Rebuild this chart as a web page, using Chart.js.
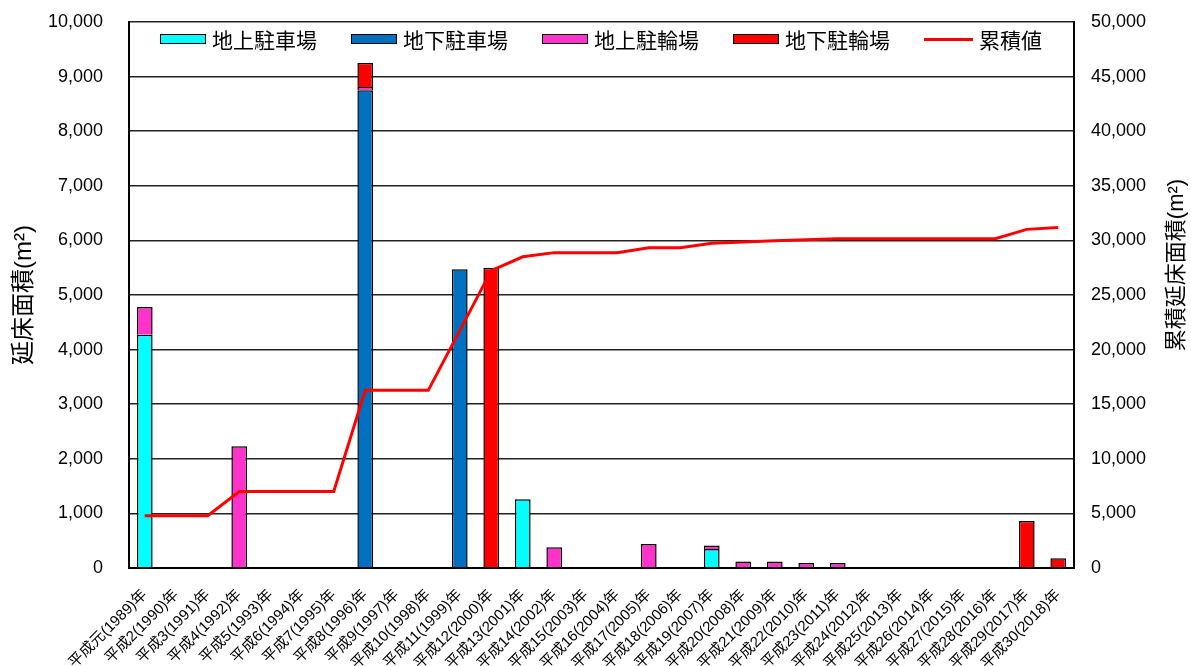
<!DOCTYPE html>
<html lang="ja">
<head>
<meta charset="utf-8">
<title>駐車場・駐輪場 延床面積</title>
<script src="https://cdn.jsdelivr.net/npm/chart.js@4"></script>
<style>
  html, body { margin: 0; padding: 0; background: #fff; }
  #wrap { width: 1191px; height: 666px; position: relative; }
  #legend {
    position: absolute; left: 160px; top: 27px; height: 24px;
    display: flex; align-items: center;
    font-family: 'Liberation Sans', 'Noto Sans CJK JP', sans-serif;
    font-size: 21px; color: #000; white-space: nowrap;
  }
  #legend .item { display: flex; align-items: center; margin-right: 34px; }
  #legend .box { width: 44px; height: 8px; border: 1.5px solid #000; margin-right: 6px; }
  #legend .line { width: 49px; height: 3px; margin-right: 6px; }
</style>
</head>
<body>
<div id="wrap"><canvas id="chart"></canvas><div id="legend"></div></div>
<script>
const years = ['平成元(1989)年', '平成2(1990)年', '平成3(1991)年', '平成4(1992)年', '平成5(1993)年',
  '平成6(1994)年', '平成7(1995)年', '平成8(1996)年', '平成9(1997)年', '平成10(1998)年',
  '平成11(1999)年', '平成12(2000)年', '平成13(2001)年', '平成14(2002)年', '平成15(2003)年',
  '平成16(2004)年', '平成17(2005)年', '平成18(2006)年', '平成19(2007)年', '平成20(2008)年',
  '平成21(2009)年', '平成22(2010)年', '平成23(2011)年', '平成24(2012)年', '平成25(2013)年',
  '平成26(2014)年', '平成27(2015)年', '平成28(2016)年', '平成29(2017)年', '平成30(2018)年'];

// 地上駐車場
const groundParking = [4270, null, null, null, null, null, null, null, null, null,
  null, null, 1260, null, null, null, null, null, 350, null,
  null, null, null, null, null, null, null, null, null, null];
// 地下駐車場
const undergroundParking = [null, null, null, null, null, null, null, 8750, null, null,
  5470, null, null, null, null, null, null, null, null, null,
  null, null, null, null, null, null, null, null, null, null];
// 地上駐輪場
const groundBicycle = [510, null, null, 2230, null, null, null, 60, null, null,
  null, null, null, 380, null, null, 440, null, 60, 120,
  120, 90, 90, null, null, null, null, null, null, null];
// 地下駐輪場
const undergroundBicycle = [null, null, null, null, null, null, null, 440, null, null,
  null, 5500, null, null, null, null, null, null, null, null,
  null, null, null, null, null, null, null, null, 860, 180];
// 累積値
const cumulative = [4780, 4780, 4780, 7010, 7010, 7010, 7010, 16270, 16270, 16270,
  21740, 27240, 28500, 28880, 28880, 28880, 29320, 29320, 29730, 29850,
  29970, 30060, 30150, 30150, 30150, 30150, 30150, 30150, 31010, 31190];

const fontFamily = "'Liberation Sans', 'Noto Sans CJK JP', sans-serif";
Chart.defaults.font.family = fontFamily;
Chart.defaults.color = '#000';

function barSet(label, data, color) {
    return {
        type: 'bar',
        label: label,
        data: data,
        backgroundColor: color,
        borderColor: '#000',
        borderWidth: 1.5,
        barPercentage: 0.5,
        categoryPercentage: 1,
        stack: 'area',
        yAxisID: 'y',
        order: 1
    };
}

// right axis title reads bottom-to-top like the left one
const rightTitle = {
    id: 'rightTitle',
    afterDraw(chart) {
        const { ctx, chartArea } = chart;
        ctx.save();
        ctx.translate(chart.width - 14, (chartArea.top + chartArea.bottom) / 2 - 30);
        ctx.rotate(-Math.PI / 2);
        ctx.font = '22px ' + fontFamily;
        ctx.fillStyle = '#000';
        ctx.textAlign = 'center';
        ctx.textBaseline = 'middle';
        ctx.fillText('累積延床面積(m²)', 0, 0);
        ctx.restore();
    }
};

// fixed axis sizes so the plot area sits where the original one does
function fixVertical(width) {
    return scale => {
        scale.width = width;
        scale.paddingTop = 0;
        scale.paddingBottom = 0;
    };
}

const chart = new Chart(document.getElementById('chart'), {
    data: {
        labels: years,
        datasets: [
            barSet('地上駐車場', groundParking, '#00FFFF'),
            barSet('地下駐車場', undergroundParking, '#0070C0'),
            barSet('地上駐輪場', groundBicycle, '#FF33CC'),
            barSet('地下駐輪場', undergroundBicycle, '#FF0000'),
            {
                type: 'line',
                label: '累積値',
                data: cumulative,
                borderColor: '#FF0000',
                backgroundColor: '#FF0000',
                borderWidth: 3,
                pointRadius: 0,
                tension: 0,
                yAxisID: 'y1',
                order: 0
            }
        ]
    },
    options: {
        responsive: true,
        maintainAspectRatio: false,
        animation: false,
        layout: {
            padding: { left: 6, right: 45, top: 22, bottom: 0 }
        },
        plugins: {
            tooltip: { enabled: false },
            legend: { display: false }
        },
        scales: {
            x: {
                grid: { display: false },
                border: { display: true, color: '#000', width: 2 },
                ticks: {
                    autoSkip: false,
                    maxRotation: 45,
                    minRotation: 45,
                    padding: 10,
                    font: { size: 15 }
                },
                afterFit: scale => { scale.height = 98; }
            },
            y: {
                position: 'left',
                min: 0,
                max: 10000,
                grid: { color: '#222', lineWidth: 1.5, drawTicks: false },
                border: { display: true, color: '#000', width: 2 },
                ticks: { stepSize: 1000, padding: 26, font: { size: 18 } },
                title: {
                    display: true,
                    text: '延床面積(m²)',
                    font: { size: 24 },
                    padding: { top: 4, bottom: 4 }
                },
                afterFit: fixVertical(123)
            },
            y1: {
                position: 'right',
                min: 0,
                max: 50000,
                grid: { display: false, drawTicks: false },
                border: { display: true, color: '#000', width: 2 },
                ticks: { stepSize: 5000, padding: 17, font: { size: 18 } },
                afterFit: fixVertical(72)
            }
        }
    },
    plugins: [rightTitle]
});

// legend row inside the plot area, built from the datasets
const legendEl = document.getElementById('legend');
chart.data.datasets.forEach(ds => {
    const item = document.createElement('div');
    item.className = 'item';
    const mark = document.createElement('span');
    mark.className = ds.type === 'line' ? 'line' : 'box';
    mark.style.background = ds.type === 'line' ? ds.borderColor : ds.backgroundColor;
    const text = document.createElement('span');
    text.textContent = ds.label;
    item.appendChild(mark);
    item.appendChild(text);
    legendEl.appendChild(item);
});
</script>
</body>
</html>
